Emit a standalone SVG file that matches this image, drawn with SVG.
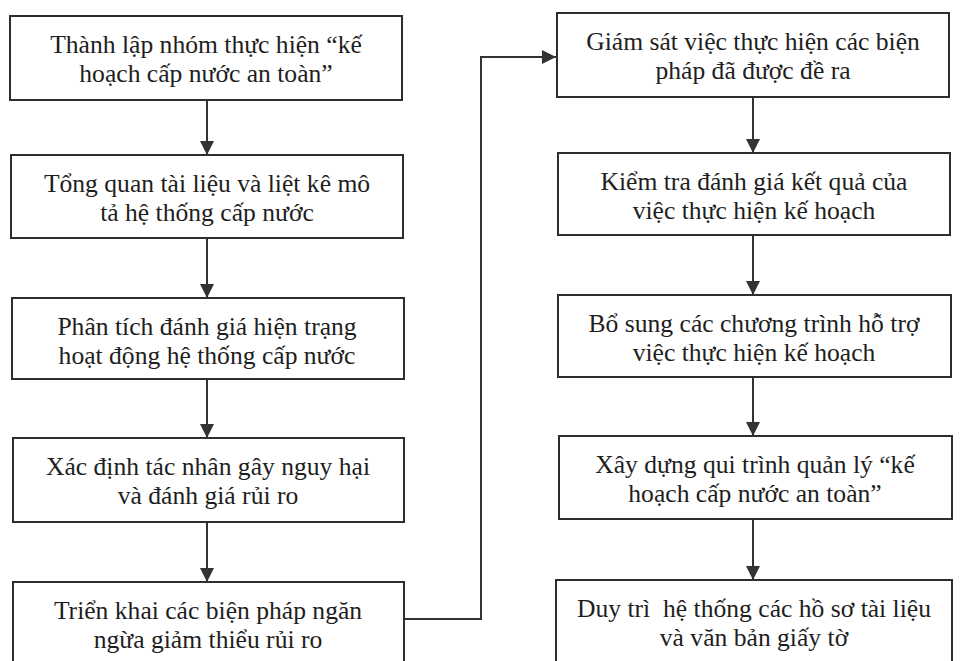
<svg xmlns="http://www.w3.org/2000/svg" width="960" height="661" viewBox="0 0 960 661">
<defs>
<style>
.box{fill:#ffffff;stroke:#2e2e2e;stroke-width:2}
.t{font-family:"Liberation Serif","Times New Roman",serif;font-size:25.6px;fill:#1e1e1e;text-anchor:middle}
.c{fill:none;stroke:#333333;stroke-width:2}
</style>
<marker id="ah" viewBox="0 0 14 14" refX="14" refY="7" markerWidth="14" markerHeight="14" markerUnits="userSpaceOnUse" orient="auto">
<path d="M0,0 L14,7 L0,14 Z" fill="#333333"/>
</marker>
</defs>
<rect width="960" height="661" fill="#ffffff"/>
<g id="connectors">
<line class="c" x1="207" y1="100" x2="207" y2="155" marker-end="url(#ah)"/>
<line class="c" x1="207" y1="238" x2="207" y2="298" marker-end="url(#ah)"/>
<line class="c" x1="207" y1="379" x2="207" y2="438" marker-end="url(#ah)"/>
<line class="c" x1="207" y1="522" x2="207" y2="582" marker-end="url(#ah)"/>
<polyline class="c" points="404,619 481,619 481,57 556,57" marker-end="url(#ah)"/>
<line class="c" x1="753" y1="97" x2="753" y2="153" marker-end="url(#ah)"/>
<line class="c" x1="753" y1="235" x2="753" y2="295" marker-end="url(#ah)"/>
<line class="c" x1="753" y1="377" x2="753" y2="436" marker-end="url(#ah)"/>
<line class="c" x1="753" y1="519" x2="753" y2="580" marker-end="url(#ah)"/>
</g>
<g id="n1"><rect class="box" x="10" y="16" width="392" height="84"/>
<text class="t" x="206" y="53">Thành lập nhóm thực hiện “kế</text>
<text class="t" x="206" y="82">hoạch cấp nước an toàn”</text></g>
<g id="n2"><rect class="box" x="11" y="155" width="392" height="83"/>
<text class="t" x="207" y="192">Tổng quan tài liệu và liệt kê mô</text>
<text class="t" x="207" y="221">tả hệ thống cấp nước</text></g>
<g id="n3"><rect class="box" x="12" y="298" width="392" height="81"/>
<text class="t" x="207" y="335">Phân tích đánh giá hiện trạng</text>
<text class="t" x="207" y="364">hoạt động hệ thống cấp nước</text></g>
<g id="n4"><rect class="box" x="13" y="438" width="391" height="84"/>
<text class="t" x="208" y="475">Xác định tác nhân gây nguy hại</text>
<text class="t" x="208" y="504">và đánh giá rủi ro</text></g>
<g id="n5"><rect class="box" x="13" y="582" width="391" height="100"/>
<text class="t" x="208" y="619">Triển khai các biện pháp ngăn</text>
<text class="t" x="208" y="648">ngừa giảm thiểu rủi ro</text></g>
<g id="n6"><rect class="box" x="557" y="13" width="392" height="84"/>
<text class="t" x="753" y="50">Giám sát việc thực hiện các biện</text>
<text class="t" x="753" y="79">pháp đã được đề ra</text></g>
<g id="n7"><rect class="box" x="558" y="153" width="392" height="82"/>
<text class="t" x="754" y="190">Kiểm tra đánh giá kết quả của</text>
<text class="t" x="754" y="219">việc thực hiện kế hoạch</text></g>
<g id="n8"><rect class="box" x="558" y="295" width="393" height="82"/>
<text class="t" x="754" y="332">Bổ sung các chương trình hỗ trợ</text>
<text class="t" x="754" y="361">việc thực hiện kế hoạch</text></g>
<g id="n9"><rect class="box" x="559" y="436" width="393" height="83"/>
<text class="t" x="755" y="473">Xây dựng qui trình quản lý “kế</text>
<text class="t" x="755" y="502">hoạch cấp nước an toàn”</text></g>
<g id="n10"><rect class="box" x="556" y="580" width="396" height="100"/>
<text class="t" x="754" y="617" style="white-space:pre">Duy trì  hệ thống các hồ sơ tài liệu</text>
<text class="t" x="754" y="646">và văn bản giấy tờ</text></g>
</svg>
